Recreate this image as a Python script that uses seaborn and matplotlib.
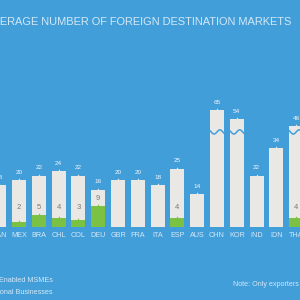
import numpy as np
import pandas as pd
import matplotlib
matplotlib.use("Agg")
import matplotlib.pyplot as plt
import seaborn as sns

countries = ["CAN", "MEX", "BRA", "CHL", "COL", "DEU", "GBR", "FRA", "ITA",
             "ESP", "AUS", "CHN", "KOR", "IND", "IDN", "THA"]
traditional = [18, 20, 22, 24, 22, 16, 20, 20, 18, 25, 14, 65, 54, 22, 34, 46]
ebay = [np.nan, 2, 5, 4, 3, 9, np.nan, np.nan, np.nan, 4, np.nan, np.nan,
        np.nan, np.nan, np.nan, 4]
broken = ["CHN", "KOR", "THA"]
title = "AVERAGE NUMBER OF FOREIGN DESTINATION MARKETS"
legend_labels = ["eBay-Enabled MSMEs", "Traditional Businesses"]
note = "Note: Only exporters"

BG = "#429ED9"
GRAY = "#EAE8E5"
GREEN = "#7BC144"
LIGHT = "#D3E8F6"

sns.set_style("white")
plt.rcParams["font.family"] = ["Liberation Sans", "DejaVu Sans"]

df = pd.DataFrame({"country": countries, "trad": traditional, "ebay": ebay})

fig = plt.figure(figsize=(3, 3), dpi=100, facecolor=BG)
ax = fig.add_axes([0, 73 / 300, 1, 227 / 300])
ax.set_facecolor(BG)

W = 0.707
sns.barplot(data=df, x="country", y="trad", order=countries, color=GRAY,
            width=W, saturation=1, ax=ax, edgecolor="none")
sns.barplot(data=df, x="country", y="ebay", order=countries, color=GREEN,
            width=W, saturation=1, ax=ax, edgecolor="none")

K, T = 0.35, 42.0
def fwd(v):
    v = np.asarray(v, dtype=float)
    return np.where(v <= T, v, T + (v - T) * K)
def inv(d):
    d = np.asarray(d, dtype=float)
    return np.where(d <= T, d, T + (d - T) / K)
ax.set_yscale("function", functions=(fwd, inv))
ax.set_ylim(0, float(inv(227 / 2.33)))
ax.set_xlim(0.8 / 19.8, 300.8 / 19.8)

x = np.arange(len(countries))
# small caps on bar tops
ax.scatter(x, traditional, marker="^", s=10, color=GRAY, zorder=3,
           linewidths=0, clip_on=False)
mask = ~np.isnan(np.array(ebay, dtype=float))
ax.scatter(x[mask], np.array(ebay)[mask], marker="^", s=10, color=GREEN,
           zorder=3, linewidths=0)

for i, v in enumerate(traditional):
    ax.annotate(str(v), (i, v), xytext=(0, 3.8), textcoords="offset points",
                ha="center", va="bottom", fontsize=4.6, color="#F2F6FA",
                annotation_clip=False)
for i, v in enumerate(ebay):
    if not np.isnan(v):
        ax.text(i, max(v + 3.3, 8.2), str(int(v)), ha="center", va="center",
                fontsize=5.5, color="#7A7A7A", zorder=4)

# category labels below the baseline
for i, c in enumerate(countries):
    ax.annotate(c, (i, 0), xytext=(0, -5.8), textcoords="offset points",
                ha="center", va="center", fontsize=5.2, color=LIGHT,
                annotation_clip=False)

# wavy break marks
for c in broken:
    i = countries.index(c)
    xs = np.linspace(i - W / 2 - 0.05, i + W / 2 + 0.05, 40)
    ys = 40.8 + 0.9 * np.sin((xs - i) * 2 * np.pi / (W / 1.2))
    ax.plot(xs, ys, color=BG, lw=1.1, zorder=4)

ax.set_xlabel("")
ax.set_ylabel("")
ax.set_yticks([])
ax.set_xticks([])
for s in ax.spines.values():
    s.set_visible(False)

fig.text(291 / 300, 1 - 22 / 300, title, ha="right", va="center",
         fontsize=7.95, color=LIGHT)
fig.text(53 / 300, 1 - 281 / 300, legend_labels[0], ha="right", va="center",
         fontsize=5.2, color=LIGHT)
fig.text(53 / 300, 1 - 293 / 300, legend_labels[1], ha="right", va="center",
         fontsize=5.2, color=LIGHT)
fig.text(233 / 300, 1 - 285 / 300, note, ha="left", va="center",
         fontsize=5.15, color=LIGHT)

fig.savefig("out.png", dpi=100, facecolor=BG)
